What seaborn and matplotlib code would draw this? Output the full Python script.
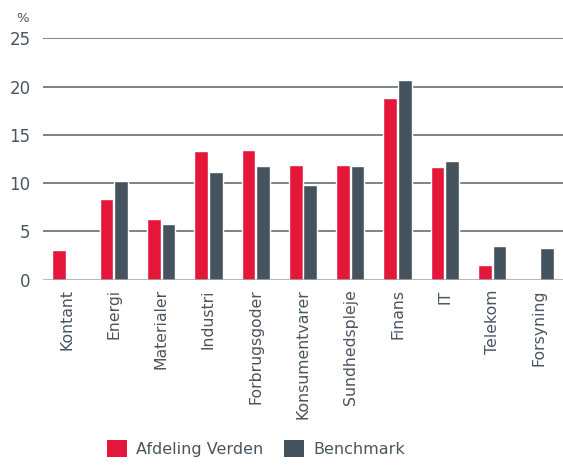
import matplotlib
matplotlib.use("Agg")
import matplotlib.pyplot as plt
import seaborn as sns
import pandas as pd
from matplotlib.patches import Patch

categories = ["Kontant", "Energi", "Materialer", "Industri", "Forbrugsgoder",
              "Konsumentvarer", "Sundhedspleje", "Finans", "IT", "Telekom", "Forsyning"]
afdeling = [3.05, 8.35, 6.3, 13.35, 13.45, 11.9, 11.9, 18.85, 11.7, 1.5, 0.0]
benchmark = [0.0, 10.25, 5.8, 11.15, 11.8, 9.85, 11.8, 20.65, 12.3, 3.5, 3.3]
series = ["Afdeling Verden", "Benchmark"]
yticks = [0, 5, 10, 15, 20, 25]

red = "#E4173A"
grey = "#45535E"
txt = "#4a5560"

df = pd.DataFrame({
    "Sektor": categories * 2,
    "Værdi": afdeling + benchmark,
    "Serie": [series[0]] * len(categories) + [series[1]] * len(categories),
})

sns.set_theme(style="white")
plt.rcParams['font.family'] = ['DejaVu Sans']

fig = plt.figure(figsize=(5.63, 4.66), dpi=100)
ax = fig.add_axes([43 / 563, 0.400, 1 - 43 / 563, 0.5176])

sns.barplot(data=df, x="Sektor", y="Værdi", hue="Serie", palette=[red, grey],
            width=0.62, gap=0.06, ax=ax, legend=False, saturation=1)

ax.set_ylim(0, 25)
ax.set_xlim(-0.5, len(categories) - 0.5)
ax.set_yticks(yticks)
for y in yticks[1:]:
    ax.axhline(y, color="#56626c", lw=1.1, zorder=0)
ax.axhline(0, color="#9aa5ad", lw=1.8, zorder=3)
for s in ax.spines.values():
    s.set_visible(False)
ax.set_xlabel("")
ax.set_ylabel("")
ax.tick_params(axis="y", labelsize=12, colors=txt, length=0, pad=9)
ax.tick_params(axis="x", labelsize=11.3, colors=txt, length=0, pad=7)
ax.set_xticks(range(len(categories)))
ax.set_xticklabels(categories, rotation=90, color=txt)

fig.text(23 / 563, 1 - 18 / 466, "%", fontsize=9.5, color=txt, ha="center", va="center")

handles = [Patch(facecolor=red, edgecolor="none"), Patch(facecolor=grey, edgecolor="none")]
leg = fig.legend(handles, series, loc="lower center", bbox_to_anchor=(256 / 563, -0.012),
                 ncol=2, frameon=False, fontsize=11.5, handlelength=1.25, handleheight=1.3,
                 columnspacing=1.3, handletextpad=0.55)
for t in leg.get_texts():
    t.set_color(txt)

fig.savefig("out.png", dpi=100)
